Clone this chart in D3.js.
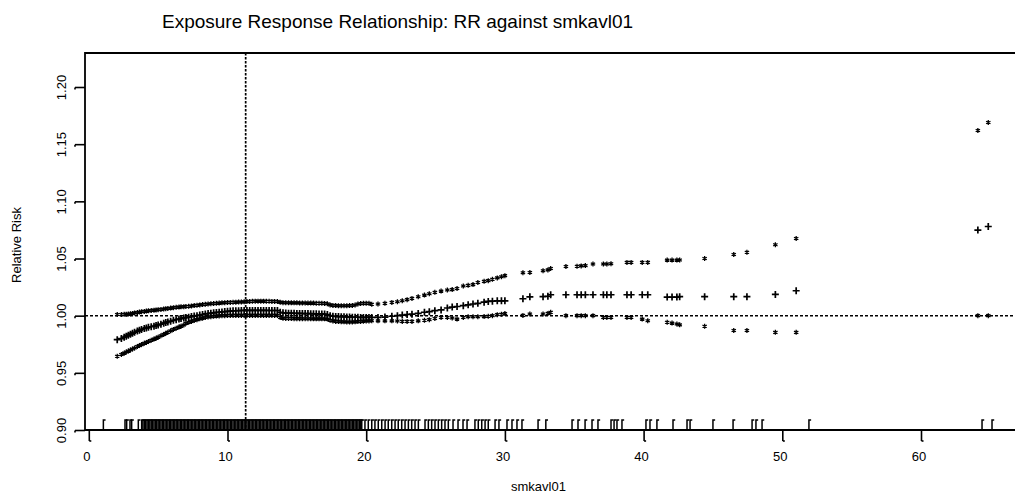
<!DOCTYPE html>
<html><head><meta charset="utf-8">
<script src="https://cdn.jsdelivr.net/npm/d3@7"></script>
<style>
body{margin:0;background:#fff}
svg{display:block}
text{font-family:"Liberation Sans",Arial,Helvetica,sans-serif;fill:#000}
</style>
</head><body>
<svg id="chart" width="1015" height="497"></svg>
<script>
// ---------- data ----------
const titleText = "Exposure Response Relationship: RR against smkavl01";
const xLabelText = "smkavl01";
const yLabelText = "Relative Risk";
const xTickValues = [0, 10, 20, 30, 40, 50, 60];
const yTickValues = [0.90, 0.95, 1.00, 1.05, 1.10, 1.15, 1.20];
const refExposure = 11.31;   // vertical reference line
const refRR = 1.00;          // horizontal reference line

// exposure values at which RR and its bounds are plotted
const exposure = [
  2.05, 2.35, 2.55, 2.7, 2.85, 3.0, 3.15, 3.3, 3.5, 3.65,
  3.8, 4.0, 4.15, 4.3, 4.5, 4.7, 4.85, 5.0, 5.2, 5.4,
  5.55, 5.7, 5.9, 6.1, 6.3, 6.5, 6.65, 6.85, 7.0, 7.2,
  7.4, 7.6, 7.8, 8.0, 8.2, 8.4, 8.6, 8.8, 9.0, 9.2,
  9.4, 9.6, 9.8, 10.0, 10.2, 10.4, 10.6, 10.8, 11.0, 11.2,
  11.4, 11.6, 11.8, 12.0, 12.2, 12.4, 12.6, 12.8, 13.0, 13.2,
  13.4, 13.6, 13.8, 14.0, 14.2, 14.4, 14.6, 14.8, 15.0, 15.2,
  15.4, 15.6, 15.8, 16.0, 16.2, 16.4, 16.6, 16.8, 17.0, 17.2,
  17.4, 17.6, 17.8, 18.0, 18.2, 18.4, 18.6, 18.8, 19.0, 19.2,
  19.4, 19.6, 19.8, 20.0, 20.2,
  20.4, 20.85, 21.35, 21.85, 22.25, 22.6, 22.95, 23.3, 23.75, 24.2,
  24.55, 24.95, 25.4, 25.85, 26.2, 26.55, 27.0, 27.35, 27.7, 28.05,
  28.5, 28.8, 29.1, 29.45, 29.75, 30.0,
  31.3, 31.8, 32.75, 33.1, 33.3, 34.4, 35.2, 35.5, 35.8, 36.35,
  37.1, 37.35, 37.65, 38.8, 39.1, 39.9, 40.3, 41.7, 42.05, 42.4,
  42.6, 44.4, 46.5, 47.45, 49.5, 51.0, 64.1, 64.85
];
// upper bound (*)
const upperRR = [
  1.0010, 1.0010, 1.0012, 1.0013, 1.0014, 1.0016, 1.0020, 1.0024, 1.0028, 1.0031,
  1.0034, 1.0037, 1.0040, 1.0042, 1.0045, 1.0048, 1.0050, 1.0052, 1.0055, 1.0058,
  1.0060, 1.0063, 1.0066, 1.0070, 1.0073, 1.0075, 1.0077, 1.0079, 1.0080, 1.0082,
  1.0085, 1.0088, 1.0091, 1.0094, 1.0097, 1.0100, 1.0102, 1.0104, 1.0106, 1.0108,
  1.0110, 1.0112, 1.0114, 1.0115, 1.0116, 1.0117, 1.0118, 1.0119, 1.0120, 1.0121,
  1.0123, 1.0125, 1.0126, 1.0127, 1.0127, 1.0127, 1.0127, 1.0126, 1.0126, 1.0125,
  1.0125, 1.0124, 1.0118, 1.0114, 1.0113, 1.0113, 1.0112, 1.0112, 1.0112, 1.0111,
  1.0111, 1.0111, 1.0110, 1.0110, 1.0110, 1.0109, 1.0109, 1.0108, 1.0107, 1.0104,
  1.0094, 1.0090, 1.0088, 1.0087, 1.0087, 1.0087, 1.0087, 1.0088, 1.0089, 1.0093,
  1.0102, 1.0106, 1.0108, 1.0108, 1.0108,
  1.0100, 1.0102, 1.0108, 1.0116, 1.0122, 1.0130, 1.0140, 1.0151, 1.0165, 1.0180,
  1.0192, 1.0204, 1.0215, 1.0224, 1.0228, 1.0238, 1.0260, 1.0265, 1.0272, 1.0290,
  1.0300, 1.0306, 1.0318, 1.0330, 1.0340, 1.0350,
  1.0375, 1.0378, 1.0393, 1.0400, 1.0413, 1.0430, 1.0432, 1.0435, 1.0438, 1.0452,
  1.0452, 1.0452, 1.0454, 1.0466, 1.0466, 1.0466, 1.0466, 1.0486, 1.0486, 1.0486,
  1.0487, 1.0500, 1.0535, 1.0555, 1.0620, 1.0675, 1.1620, 1.1690
];
// relative risk estimate (+)
const estimateRR = [
  0.9790, 0.9800, 0.9812, 0.9820, 0.9828, 0.9838, 0.9846, 0.9855, 0.9865, 0.9872,
  0.9880, 0.9888, 0.9893, 0.9898, 0.9903, 0.9908, 0.9913, 0.9919, 0.9926, 0.9934,
  0.9940, 0.9945, 0.9952, 0.9959, 0.9965, 0.9970, 0.9975, 0.9980, 0.9983, 0.9987,
  0.9992, 0.9996, 1.0000, 1.0005, 1.0010, 1.0015, 1.0018, 1.0022, 1.0025, 1.0028,
  1.0030, 1.0033, 1.0036, 1.0038, 1.0040, 1.0042, 1.0043, 1.0044, 1.0045, 1.0046,
  1.0046, 1.0046, 1.0046, 1.0046, 1.0046, 1.0046, 1.0046, 1.0046, 1.0045, 1.0045,
  1.0045, 1.0045, 1.0030, 1.0025, 1.0023, 1.0022, 1.0022, 1.0021, 1.0020, 1.0020,
  1.0019, 1.0018, 1.0018, 1.0017, 1.0016, 1.0016, 1.0015, 1.0015, 1.0014, 1.0010,
  1.0000, 0.9995, 0.9993, 0.9992, 0.9991, 0.9990, 0.9989, 0.9988, 0.9987, 0.9986,
  0.9986, 0.9985, 0.9985, 0.9985, 0.9985,
  0.9985, 0.9985, 0.9988, 0.9995, 1.0000, 1.0005, 1.0010, 1.0013, 1.0020, 1.0030,
  1.0035, 1.0044, 1.0050, 1.0067, 1.0075, 1.0080, 1.0087, 1.0095, 1.0102, 1.0108,
  1.0118, 1.0125, 1.0127, 1.0130, 1.0130, 1.0130,
  1.0148, 1.0165, 1.0166, 1.0170, 1.0183, 1.0183, 1.0183, 1.0183, 1.0183, 1.0183,
  1.0183, 1.0183, 1.0183, 1.0183, 1.0183, 1.0183, 1.0183, 1.0163, 1.0163, 1.0163,
  1.0166, 1.0166, 1.0166, 1.0166, 1.0186, 1.0218, 1.0749, 1.0780
];
// lower bound (*)
const lowerRR = [
  0.9645, 0.9660, 0.9672, 0.9682, 0.9690, 0.9700, 0.9708, 0.9717, 0.9730, 0.9738,
  0.9747, 0.9758, 0.9766, 0.9774, 0.9785, 0.9795, 0.9802, 0.9812, 0.9824, 0.9836,
  0.9846, 0.9855, 0.9867, 0.9880, 0.9890, 0.9900, 0.9908, 0.9918, 0.9933, 0.9942,
  0.9950, 0.9958, 0.9965, 0.9972, 0.9978, 0.9984, 0.9988, 0.9991, 0.9994, 0.9996,
  0.9998, 1.0000, 1.0000, 1.0001, 1.0001, 1.0002, 1.0002, 1.0002, 1.0002, 1.0002,
  1.0002, 1.0002, 1.0002, 1.0002, 1.0002, 1.0002, 1.0002, 1.0002, 1.0002, 1.0002,
  1.0002, 1.0002, 0.9985, 0.9978, 0.9976, 0.9975, 0.9975, 0.9974, 0.9974, 0.9974,
  0.9973, 0.9973, 0.9973, 0.9973, 0.9972, 0.9972, 0.9972, 0.9972, 0.9972, 0.9970,
  0.9960, 0.9954, 0.9950, 0.9948, 0.9947, 0.9946, 0.9945, 0.9945, 0.9945, 0.9946,
  0.9948, 0.9950, 0.9952, 0.9953, 0.9954,
  0.9956, 0.9955, 0.9955, 0.9955, 0.9953, 0.9950, 0.9950, 0.9950, 0.9955, 0.9960,
  0.9965, 0.9975, 0.9985, 0.9985, 0.9980, 0.9970, 0.9985, 0.9990, 0.9990, 0.9990,
  0.9992, 0.9995, 1.0000, 1.0009, 1.0012, 1.0018,
  1.0002, 1.0015, 1.0015, 1.0020, 1.0030, 1.0000, 1.0000, 1.0000, 1.0000, 1.0000,
  0.9985, 0.9985, 0.9985, 0.9985, 0.9985, 0.9970, 0.9956, 0.9942, 0.9935, 0.9927,
  0.9920, 0.9907, 0.9870, 0.9870, 0.9854, 0.9854, 1.0000, 1.0000
];
// observed exposures shown as a rug (outside the dense band 3.9-19.6)
const rugSparse = [
  1.05, 2.61, 2.73, 2.97, 3.09, 3.57, 3.81,
  19.68, 19.91, 20.15, 20.4, 20.63, 20.87, 21.12, 21.36, 21.59, 21.84, 22.08, 22.31, 22.56,
  22.8, 23.04, 23.28, 23.52, 23.76, 24.24, 24.48, 24.72, 24.96, 25.2, 25.44, 25.68, 25.92,
  26.26, 26.62, 26.98, 27.27, 27.84, 28.08, 28.33, 28.57, 28.8, 29.29, 29.57,
  30.15, 30.51, 30.87, 31.23, 32.39, 32.95, 34.84, 35.27, 35.78, 36.28, 36.71,
  37.65, 37.87, 38.08, 38.44, 40.17, 40.46, 40.96, 42.12, 43.13, 43.35, 45.0, 46.45,
  47.82, 48.1, 48.54, 51.92, 64.4, 65.12
];
// dense band of observed exposures (3.9 - 19.6)
const rugDense = [
  3.9, 4.0, 4.1, 4.2, 4.3, 4.4, 4.5, 4.6, 4.7, 4.8, 4.9, 5.0, 5.1, 5.2, 5.3, 5.4, 5.5, 5.6, 5.7, 5.8,
  5.9, 6.0, 6.1, 6.2, 6.3, 6.4, 6.5, 6.6, 6.7, 6.8, 6.9, 7.0, 7.1, 7.2, 7.3, 7.4, 7.5, 7.6, 7.7, 7.8,
  7.9, 8.0, 8.1, 8.2, 8.3, 8.4, 8.5, 8.6, 8.7, 8.8, 8.9, 9.0, 9.1, 9.2, 9.3, 9.4, 9.5, 9.6, 9.7, 9.8,
  9.9, 10.0, 10.1, 10.2, 10.3, 10.4, 10.5, 10.6, 10.7, 10.8, 10.9, 11.0, 11.1, 11.2, 11.3, 11.4, 11.5, 11.6, 11.7, 11.8,
  11.9, 12.0, 12.1, 12.2, 12.3, 12.4, 12.5, 12.6, 12.7, 12.8, 12.9, 13.0, 13.1, 13.2, 13.3, 13.4, 13.5, 13.6, 13.7, 13.8,
  13.9, 14.0, 14.1, 14.2, 14.3, 14.4, 14.5, 14.6, 14.7, 14.8, 14.9, 15.0, 15.1, 15.2, 15.3, 15.4, 15.5, 15.6, 15.7, 15.8,
  15.9, 16.0, 16.1, 16.2, 16.3, 16.4, 16.5, 16.6, 16.7, 16.8, 16.9, 17.0, 17.1, 17.2, 17.3, 17.4, 17.5, 17.6, 17.7, 17.8,
  17.9, 18.0, 18.1, 18.2, 18.3, 18.4, 18.5, 18.6, 18.7, 18.8, 18.9, 19.0, 19.1, 19.2, 19.3, 19.4, 19.5, 19.6
];

// ---------- layout ----------
const plotLeft = 85, plotTop = 53, plotRight = 1020;
const svg = d3.select("#chart");

const x = d3.scaleLinear().domain([0, 60]).range([88.8, 88.8 + 13.87 * 60]);
const y = d3.scaleLinear().domain([0.90, 1.20]).range([430, 87]);
const plotBottom = y(0.90);

// reference lines
svg.append("line")
  .attr("x1", plotLeft).attr("x2", plotRight)
  .attr("y1", y(refRR)).attr("y2", y(refRR))
  .attr("stroke", "#000").attr("stroke-width", 1.5)
  .attr("stroke-dasharray", "3,2");
svg.append("line")
  .attr("x1", x(refExposure)).attr("x2", x(refExposure))
  .attr("y1", plotTop).attr("y2", plotBottom)
  .attr("stroke", "#000").attr("stroke-width", 1.7)
  .attr("stroke-dasharray", "2.5,1.5");

// points
const pts = exposure.map((e, i) => ({e, u: upperRR[i], r: estimateRR[i], l: lowerRR[i]}));
const rS = 2.5;
const starPath = `M0,${-rS}V${rS}M${-rS*0.87},${-rS*0.5}L${rS*0.87},${rS*0.5}M${-rS*0.87},${rS*0.5}L${rS*0.87},${-rS*0.5}`;
const plusPath = "M-3.5,0H3.5M0,-3.5V3.5";
const gPts = svg.append("g");
gPts.selectAll("path.up").data(pts).join("path").attr("class", "up")
  .attr("transform", d => `translate(${x(d.e)},${y(d.u)})`)
  .attr("d", starPath).attr("stroke", "#000").attr("stroke-width", 1.3).attr("fill", "none");
gPts.selectAll("path.lo").data(pts).join("path").attr("class", "lo")
  .attr("transform", d => `translate(${x(d.e)},${y(d.l)})`)
  .attr("d", starPath).attr("stroke", "#000").attr("stroke-width", 1.3).attr("fill", "none");
gPts.selectAll("path.est").data(pts).join("path").attr("class", "est")
  .attr("transform", d => `translate(${x(d.e)},${y(d.r)})`)
  .attr("d", plusPath).attr("stroke", "#000").attr("stroke-width", 1.7).attr("fill", "none");

// rug
const rug = rugSparse.concat(rugDense);
svg.append("g").selectAll("path").data(rug).join("path")
  .attr("d", d => `M${x(d)},${plotBottom}V${plotBottom - 10}h2.2`)
  .attr("stroke", "#000").attr("stroke-width", 1.5).attr("fill", "none");

// box (left, top, bottom)
svg.append("path")
  .attr("d", `M${plotRight},${plotTop}H${plotLeft}V${plotBottom}H${plotRight}`)
  .attr("stroke", "#000").attr("stroke-width", 1.8).attr("fill", "none");

// x axis
const xAxis = svg.append("g").attr("transform", `translate(0,${plotBottom})`)
  .call(d3.axisBottom(x).tickValues(xTickValues).tickSize(11).tickPadding(0).tickFormat(d3.format("d")));
xAxis.select(".domain").remove();
xAxis.selectAll(".tick line").attr("stroke", "#000").attr("stroke-width", 1.6);
xAxis.selectAll(".tick").append("path").attr("d", "M0,11h2").attr("stroke", "#000").attr("stroke-width", 1.6);
xAxis.selectAll(".tick text").attr("x", -2.5).attr("y", 31).attr("dy", 0)
  .style("font-size", "13px").style("font-family", '"Liberation Sans",Arial,sans-serif');

// y axis
const yAxis = svg.append("g").attr("transform", `translate(${plotLeft},0)`)
  .call(d3.axisLeft(y).tickValues(yTickValues).tickSize(10).tickFormat(d3.format(".2f")));
yAxis.select(".domain").remove();
yAxis.selectAll(".tick line").attr("stroke", "#000").attr("stroke-width", 1.6);
yAxis.selectAll(".tick").append("path").attr("d", "M-10,0v2").attr("stroke", "#000").attr("stroke-width", 1.6);
yAxis.selectAll(".tick text")
  .attr("x", 0).attr("dy", 0)
  .attr("transform", "translate(-19,0) rotate(-90)")
  .attr("text-anchor", "middle")
  .style("font-size", "13px").style("font-family", '"Liberation Sans",Arial,sans-serif');

// titles
svg.append("text").attr("x", 162).attr("y", 28).style("font-size", "19px").text(titleText);
svg.append("text").attr("x", 538.5).attr("y", 491).attr("text-anchor", "middle")
  .style("font-size", "13px").text(xLabelText);
svg.append("text").attr("transform", "translate(20.5,245) rotate(-90)").attr("text-anchor", "middle")
  .style("font-size", "13px").text(yLabelText);
</script>
</body></html>
